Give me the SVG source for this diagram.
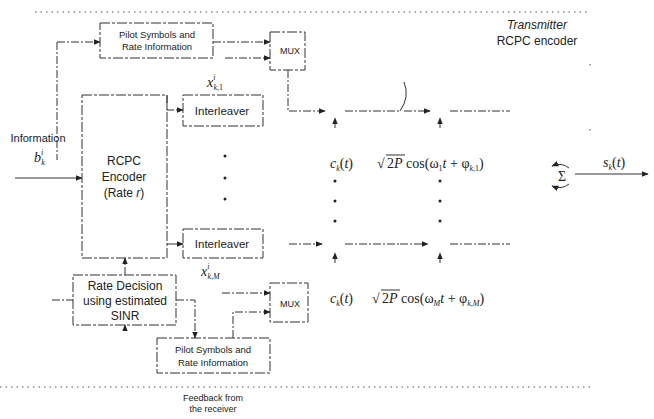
<svg xmlns="http://www.w3.org/2000/svg" width="654" height="419" viewBox="0 0 654 419">
<defs>
<marker id="ah" viewBox="0 0 10 10" refX="9" refY="5" markerWidth="7" markerHeight="7" orient="auto" markerUnits="userSpaceOnUse"><path d="M0,1 L10,5 L0,9 z" fill="#222"/></marker>
<style>
.t{font-family:"Liberation Sans",Arial,sans-serif;fill:#222;text-anchor:middle}
.m{font-family:"Liberation Serif","Times New Roman",serif;fill:#222;font-size:14px}
.mi{font-style:italic}
.box{fill:none;stroke:#333;stroke-width:1;stroke-dasharray:10 2 3 2}
.ln{fill:none;stroke:#333;stroke-width:1;stroke-dasharray:8 2 2 2}
.sl{fill:none;stroke:#333;stroke-width:1}
.dot{fill:none;stroke:#555;stroke-width:1;stroke-dasharray:1.5 4}
.arr{marker-end:url(#ah)}
</style>
</defs>
<rect width="654" height="419" fill="#fff"/>

<g id="border">
<line class="dot" x1="35" y1="12" x2="590" y2="12"/>
<line class="dot" x1="0" y1="387" x2="590" y2="387"/>
<line class="dot" x1="590" y1="64" x2="590" y2="66"/>
<line class="dot" x1="590" y1="129" x2="590" y2="131"/>
<text class="t" x="537" y="29" font-size="12" font-style="italic">Transmitter</text>
<text class="t" x="537" y="45" font-size="12">RCPC encoder</text>
<text class="t" x="213" y="401" font-size="9">Feedback from</text>
<text class="t" x="213" y="412" font-size="9">the receiver</text>
</g>

<g id="connectors">
<line class="ln" x1="57" y1="42" x2="57" y2="160"/>
<line class="ln arr" x1="57" y1="42" x2="100" y2="42"/>
<line class="ln arr" x1="213" y1="42" x2="270" y2="42"/>
<line class="ln arr" x1="225" y1="58" x2="270" y2="58"/>
<polyline class="ln arr" points="288,70 288,111 325,111"/>
<polyline class="ln arr" points="167,95 167,110 183,110"/>
<line class="sl arr" x1="15" y1="178" x2="82" y2="178"/>
<line class="sl arr" x1="167" y1="244" x2="183" y2="244"/>
<line class="ln arr" x1="289" y1="244" x2="322" y2="244"/>
<line class="ln arr" x1="125" y1="275" x2="125" y2="258"/>
<line class="ln" x1="52" y1="300" x2="73" y2="300"/>
<polyline class="ln arr" points="176,300 195,300 195,338"/>
<line class="ln arr" x1="125" y1="331" x2="125" y2="325"/>
<line class="ln arr" x1="222" y1="293" x2="270" y2="293"/>
<polyline class="ln arr" points="233,338 233,312 270,312"/>
<line class="ln" x1="345" y1="111" x2="400" y2="111"/>
<path class="sl" d="M400,111 Q410,97 404,82"/>
<line class="ln arr" x1="404" y1="111" x2="430" y2="111"/>
<line class="ln" x1="450" y1="111" x2="510" y2="111"/>
<line class="ln" x1="345" y1="244" x2="400" y2="244"/>
<line class="ln arr" x1="400" y1="244" x2="428" y2="244"/>
<line class="ln" x1="450" y1="244" x2="510" y2="244"/>
<line class="ln arr" x1="335" y1="128" x2="335" y2="118"/>
<line class="ln arr" x1="440" y1="128" x2="440" y2="118"/>
<line class="ln arr" x1="335" y1="263" x2="335" y2="253"/>
<line class="ln arr" x1="440" y1="263" x2="440" y2="253"/>
<line class="sl arr" x1="575" y1="174" x2="648" y2="174"/>
<path class="sl arr" d="M569,168 Q562,162 552,166"/>
<path class="sl arr" d="M569,184 Q562,190 552,186"/>
</g>

<g id="pilot1">
<rect class="box" x="100" y="23" width="113" height="35"/>
<text class="t" x="157" y="38" font-size="9.5">Pilot Symbols and</text>
<text class="t" x="157" y="50" font-size="9.5">Rate Information</text>
</g>
<g id="mux1">
<rect class="box" x="270" y="32" width="35" height="38"/>
<text class="t" x="290" y="54" font-size="9">MUX</text>
</g>
<g id="encoder">
<rect class="box" x="82" y="95" width="85" height="163"/>
<text class="t" x="124" y="165" font-size="12">RCPC</text>
<text class="t" x="124" y="181" font-size="12">Encoder</text>
<text class="t" x="124" y="197" font-size="12">(Rate <tspan font-style="italic">r</tspan>)</text>
</g>
<g id="info">
<text class="t" x="38" y="142" font-size="11">Information</text>
<text class="m" x="34" y="162"><tspan class="mi">b</tspan><tspan font-size="8" dy="-7" class="mi">i</tspan><tspan font-size="8" dx="-2" dy="10" class="mi">k</tspan></text>
</g>
<g id="interleaver1">
<rect class="box" x="183" y="95" width="80" height="31"/>
<text class="t" x="222" y="115" font-size="11.5">Interleaver</text>
<text class="m" x="207" y="87"><tspan class="mi">x</tspan><tspan font-size="8" dy="-7" class="mi">i</tspan><tspan font-size="8" dx="-2" dy="10" class="mi">k</tspan><tspan font-size="8">,1</tspan></text>
</g>
<g id="vdots">
<circle cx="225" cy="156" r="1.5" fill="#222"/>
<circle cx="225" cy="178" r="1.5" fill="#222"/>
<circle cx="225" cy="199" r="1.5" fill="#222"/>
<circle cx="335" cy="181" r="1.5" fill="#222"/>
<circle cx="335" cy="201" r="1.5" fill="#222"/>
<circle cx="335" cy="221" r="1.5" fill="#222"/>
<circle cx="440" cy="181" r="1.5" fill="#222"/>
<circle cx="440" cy="201" r="1.5" fill="#222"/>
<circle cx="440" cy="221" r="1.5" fill="#222"/>
</g>
<g id="interleaverM">
<rect class="box" x="183" y="229" width="80" height="29"/>
<text class="t" x="222" y="248" font-size="11.5">Interleaver</text>
<text class="m" x="201" y="276"><tspan class="mi">x</tspan><tspan font-size="8" dy="-7" class="mi">i</tspan><tspan font-size="8" dx="-2" dy="10" class="mi">k</tspan><tspan font-size="8">,</tspan><tspan font-size="8" class="mi">M</tspan></text>
</g>
<g id="ratedecision">
<rect class="box" x="73" y="275" width="103" height="50"/>
<text class="t" x="125" y="290" font-size="12">Rate Decision</text>
<text class="t" x="125" y="305" font-size="12">using estimated</text>
<text class="t" x="125" y="320" font-size="12">SINR</text>
</g>
<g id="mux2">
<rect class="box" x="270" y="283" width="38" height="39"/>
<text class="t" x="290" y="307" font-size="9">MUX</text>
</g>
<g id="pilot2">
<rect class="box" x="157" y="338" width="113" height="35"/>
<text class="t" x="213" y="353" font-size="9.5">Pilot Symbols and</text>
<text class="t" x="213" y="366" font-size="9.5">Rate Information</text>
</g>
<g id="labels1">
<text class="m" x="330" y="168"><tspan class="mi">c</tspan><tspan font-size="8" dy="3" class="mi">k</tspan><tspan dy="-3">(</tspan><tspan class="mi">t</tspan>)</text>
<text class="m" x="377" y="168">√</text>
<line class="sl" x1="386" y1="155" x2="405" y2="155"/>
<text class="m" x="387" y="168">2<tspan class="mi">P</tspan> cos(ω<tspan font-size="8" dy="3">1</tspan><tspan dy="-3" class="mi">t</tspan> + φ<tspan font-size="8" dy="3" class="mi">k</tspan><tspan font-size="8">,1</tspan><tspan dy="-3">)</tspan></text>
</g>
<g id="labelsM">
<text class="m" x="330" y="303"><tspan class="mi">c</tspan><tspan font-size="8" dy="3" class="mi">k</tspan><tspan dy="-3">(</tspan><tspan class="mi">t</tspan>)</text>
<text class="m" x="372" y="303">√</text>
<line class="sl" x1="381" y1="290" x2="400" y2="290"/>
<text class="m" x="382" y="303">2<tspan class="mi">P</tspan> cos(ω<tspan font-size="8" dy="3" class="mi">M</tspan><tspan dy="-3" class="mi">t</tspan> + φ<tspan font-size="8" dy="3" class="mi">k</tspan><tspan font-size="8">,</tspan><tspan font-size="8" class="mi">M</tspan><tspan dy="-3">)</tspan></text>
</g>
<g id="sum">
<text class="m" x="562" y="181" text-anchor="middle" font-size="15">Σ</text>
<text class="m" x="603" y="167"><tspan class="mi">s</tspan><tspan font-size="8" dy="3" class="mi">k</tspan><tspan dy="-3">(</tspan><tspan class="mi">t</tspan>)</text>
</g>
</svg>
